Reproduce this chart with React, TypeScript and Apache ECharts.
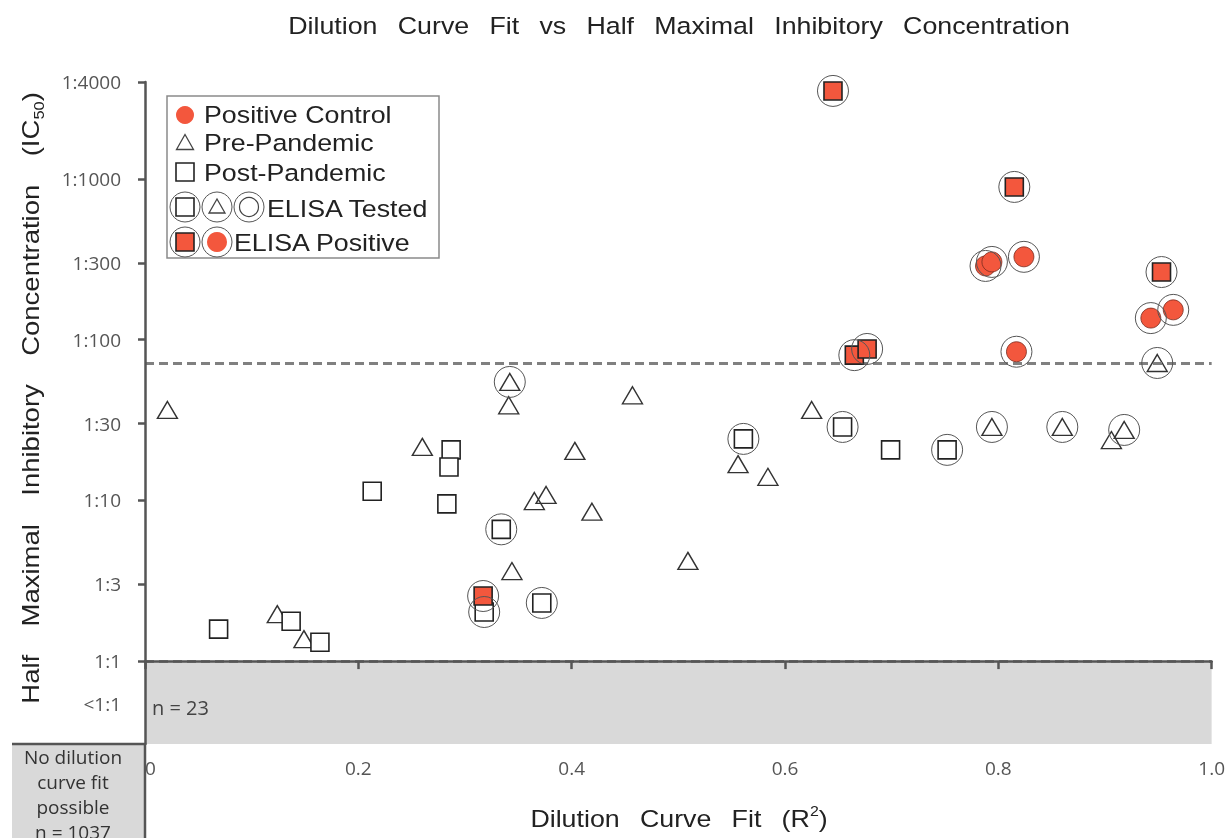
import React, { useEffect, useRef } from "react";
import * as echarts from "echarts";

// ---------- axis ticks ----------
const xTickValues = [0, 0.2, 0.4, 0.6, 0.8, 1.0];
const yTickValues = [1, 3, 10, 30, 100, 300, 1000, 4000];
const yTickLabels = ["1:1", "1:3", "1:10", "1:30", "1:100", "1:300", "1:1000", "1:4000"];
const belowLabel = "<1:1";
const belowLabelValue = 0.54;
const yFloor = 0.305;
const yCeil = 4000;
const thresholdRatios = [1, 70];

// ---------- data: R² (x) and IC50 dilution (y, as 1:N) ----------
const preR2 = [0.021, 0.124, 0.149, 0.26, 0.341, 0.344, 0.365, 0.376, 0.403, 0.419, 0.457, 0.509, 0.556, 0.584, 0.625, 0.906];
const preIC50 = [36.5, 1.96, 1.37, 21.5, 39, 3.63, 9.9, 10.8, 20.3, 8.5, 45, 4.2, 16.8, 14.0, 36.5, 23.7];

const preElisaR2 = [0.342, 0.794, 0.86, 0.918, 0.949];
const preElisaIC50 = [54.5, 28.6, 28.6, 27.4, 71.5];

const postR2 = [0.069, 0.137, 0.164, 0.213, 0.287, 0.285, 0.283, 0.699];
const postIC50 = [1.58, 1.77, 1.31, 11.4, 20.6, 16.1, 9.5, 20.6];

const postElisaR2 = [0.334, 0.318, 0.372, 0.561, 0.654, 0.752];
const postElisaIC50 = [6.6, 2.02, 2.3, 24.1, 28.6, 20.6];

const postPositiveR2 = [0.317, 0.645, 0.665, 0.677, 0.815, 0.953];
const postPositiveIC50 = [2.54, 3520, 80, 87.4, 890, 263];

const controlR2 = [0.788, 0.794, 0.824, 0.817, 0.943, 0.964];
const controlIC50 = [287, 304, 327, 84, 136, 153];

const belowCount = "n = 23";
const noFitLines = ["No dilution", "curve fit", "possible", "n = 1037"];

const RED = "#f3573d";
const lg = (v: number) => Math.log10(v);
const pts = (xs: number[], ys: number[]) => xs.map((x, i) => [x, lg(ys[i])]);

export default function App() {
  const ref = useRef<HTMLDivElement>(null);
  useEffect(() => {
    if (!ref.current) return;
    const chart = echarts.init(ref.current, null, { renderer: "svg" });
    const SANS = "Liberation Sans, Arial, sans-serif";
    const OPEN = "Open Sans, DejaVu Sans, sans-serif";
    const GAP3 = "\u00a0\u00a0\u2009";
    const GAPX = "\u00a0\u00a0\u2009";
    const GAPY = "\u00a0\u00a0\u00a0\u2009";
    const LZ = 40;
    const tri = (cx: number, cy: number, w: number, h: number, stroke = "#444") => ({
      type: "polygon",
      silent: true, z: LZ,
      shape: { points: [[cx - w / 2, cy + h / 2], [cx + w / 2, cy + h / 2], [cx, cy - h / 2]] },
      style: { fill: "none", stroke, lineWidth: 1.3 },
    });
    const ring = (cx: number, cy: number) => ({
      type: "circle", silent: true, z: LZ, shape: { cx, cy, r: 15 }, style: { fill: "none", stroke: "#555", lineWidth: 1 },
    });
    const sq = (cx: number, cy: number, fill: string) => ({
      type: "rect", silent: true, z: LZ, shape: { x: cx - 9, y: cy - 9, width: 18, height: 18 }, style: { fill, stroke: "#222", lineWidth: 1.6 },
    });
    const dot = (cx: number, cy: number, r: number) => ({
      type: "circle", silent: true, z: LZ, shape: { cx, cy, r }, style: { fill: RED },
    });
    const legendText = (x: number, y: number, text: string) => ({
      type: "text", silent: true, z: LZ, x, y, scaleX: 1.14,
      style: { text, fontSize: 23.5, fontFamily: SANS, fill: "#222", textAlign: "left", textVerticalAlign: "middle" },
    });

    const ringData = [
      ...pts(preElisaR2, preElisaIC50),
      ...pts(postElisaR2, postElisaIC50),
      ...pts(postPositiveR2, postPositiveIC50),
      ...pts(controlR2, controlIC50),
    ];

    const option: any = {
      animation: false,
      grid: { left: 145, right: 14, top: 82, bottom: 94, containLabel: false },
      xAxis: {
        type: "value", min: 0, max: 1, interval: 0.2, z: 10,
        splitLine: { show: false },
        axisLine: { lineStyle: { color: "#555", width: 2.5 } },
        axisTick: { show: true, length: 8, lineStyle: { color: "#555", width: 2.5 } },
        axisLabel: {
          fontSize: 19, fontFamily: OPEN, color: "#555", margin: 14, alignMinLabel: "left",
          formatter: (v: number) => {
            const i = xTickValues.findIndex((t) => Math.abs(t - v) < 1e-6);
            return i === 0 ? "0" : v.toFixed(1);
          },
        },
      },
      yAxis: {
        type: "value", min: lg(yFloor), max: lg(yCeil), z: 10,
        splitLine: { show: false },
        axisLine: { onZero: false, lineStyle: { color: "#555", width: 2.5 } },
        axisTick: { show: true, length: 7, customValues: yTickValues.map(lg), lineStyle: { color: "#555", width: 2.5 } },
        axisLabel: {
          fontSize: 19, fontFamily: OPEN, color: "#555", margin: 24,
          customValues: [lg(belowLabelValue), ...yTickValues.map(lg)],
          formatter: (v: number) => {
            if (Math.abs(v - lg(belowLabelValue)) < 1e-6) return belowLabel;
            const i = yTickValues.findIndex((t) => Math.abs(lg(t) - v) < 1e-6);
            return i >= 0 ? yTickLabels[i] : "";
          },
        },
      },
      series: [
        {
          type: "scatter", name: "band", z: 1, silent: true, symbolSize: 0,
          data: [[0, 0]],
          markArea: {
            silent: true,
            itemStyle: { color: "#d9d9d9", opacity: 1 },
            data: [[{ yAxis: lg(yFloor) }, { yAxis: 0 }]],
          },
        },
        {
          type: "scatter", name: "thresholds", z: 2, silent: true, symbolSize: 0,
          data: [[0, 0]],
          markLine: {
            silent: true, symbol: ["none", "none"], label: { show: false },
            lineStyle: { color: "#808080", width: 3, type: [9, 5], opacity: 1 },
            data: thresholdRatios.map((r) => ({ yAxis: lg(r) })),
          },
        },
        {
          type: "scatter", name: "Pre-Pandemic", z: 3, clip: false,
          symbol: "triangle", symbolSize: [20, 17],
          itemStyle: { color: "rgba(255,255,255,0)", borderColor: "#333", borderWidth: 1.4, opacity: 1 },
          data: [...pts(preR2, preIC50), ...pts(preElisaR2, preElisaIC50)],
        },
        {
          type: "scatter", name: "Post-Pandemic", z: 4, clip: false,
          symbol: "rect", symbolSize: 18,
          itemStyle: { color: "#fff", borderColor: "#222", borderWidth: 1.6, opacity: 1 },
          data: [...pts(postR2, postIC50), ...pts(postElisaR2, postElisaIC50)],
        },
        {
          type: "scatter", name: "Post-Pandemic ELISA Positive", z: 5, clip: false,
          symbol: "rect", symbolSize: 18,
          itemStyle: { color: RED, borderColor: "#222", borderWidth: 1.6, opacity: 1 },
          data: pts(postPositiveR2, postPositiveIC50),
        },
        {
          type: "scatter", name: "Positive Control", z: 5, clip: false,
          symbol: "circle", symbolSize: 20,
          itemStyle: { color: RED, borderColor: "#7a2b1e", borderWidth: 0.8, opacity: 1 },
          data: pts(controlR2, controlIC50),
        },
        {
          type: "scatter", name: "ELISA Tested", z: 6, clip: false, silent: true,
          symbol: "circle", symbolSize: 31,
          itemStyle: { color: "rgba(255,255,255,0)", borderColor: "#555", borderWidth: 1, opacity: 1 },
          data: ringData,
        },
      ],
      graphic: [
        // lower-left "no fit" box and axis extensions
        { type: "rect", silent: true, z: 0, shape: { x: 12, y: 744, width: 133, height: 100 }, style: { fill: "#d9d9d9" } },
        { type: "line", silent: true, z: 20, shape: { x1: 12, y1: 744, x2: 145, y2: 744 }, style: { stroke: "#555", lineWidth: 2.5 } },
        { type: "line", silent: true, z: 20, shape: { x1: 145, y1: 743, x2: 145, y2: 840 }, style: { stroke: "#555", lineWidth: 2.5 } },
        {
          type: "text", silent: true, x: 73, y: 744, z: 20,
          style: {
            text: noFitLines.join("\n"), fontSize: 19, lineHeight: 25, fontFamily: OPEN, fill: "#333",
            textAlign: "center", textVerticalAlign: "top",
          },
        },
        {
          type: "text", silent: true, x: 152, y: 707, z: 20,
          style: { text: belowCount, fontSize: 20, fontFamily: OPEN, fill: "#444", textAlign: "left", textVerticalAlign: "middle" },
        },
        // title
        {
          type: "text", silent: true, x: 679, y: 26, scaleX: 1.14,
          style: {
            text: ["Dilution", "Curve", "Fit", "vs", "Half", "Maximal", "Inhibitory", "Concentration"].join(GAP3),
            fontSize: 23.5, fontFamily: SANS, fill: "#222", textAlign: "center", textVerticalAlign: "middle",
          },
        },
        // x axis name
        {
          type: "text", silent: true, x: 679, y: 819, scaleX: 1.14,
          style: {
            text: "{a|Dilution" + GAPX + "Curve" + GAPX + "Fit" + GAPX + "(R}{s|2}{a|)}",
            textAlign: "center", textVerticalAlign: "middle",
            rich: {
              a: { fontSize: 23.5, lineHeight: 30, fontFamily: SANS, fill: "#222" },
              s: { fontSize: 14, lineHeight: 14, fontFamily: SANS, fill: "#222", verticalAlign: "top" },
            },
          },
        },
        // y axis name
        {
          type: "text", silent: true, x: 31, y: 398, rotation: Math.PI / 2, scaleX: 1.17,
          style: {
            text: "{a|Half" + GAPY + "Maximal" + GAPY + "Inhibitory" + GAPY + "Concentration" + GAPY + "(IC}{s|50}{a|)}",
            textAlign: "center", textVerticalAlign: "middle",
            rich: {
              a: { fontSize: 23.5, lineHeight: 30, fontFamily: SANS, fill: "#222" },
              s: { fontSize: 14, lineHeight: 14, fontFamily: SANS, fill: "#222", verticalAlign: "bottom" },
            },
          },
        },
        // legend box
        { type: "rect", silent: true, z: 30, shape: { x: 167, y: 96, width: 272, height: 162 }, style: { fill: "#fff", stroke: "#8a8a8a", lineWidth: 1.5 } },
        dot(185, 115, 9),
        legendText(204, 115, "Positive Control"),
        tri(185, 142, 17, 15),
        legendText(204, 143, "Pre-Pandemic"),
        sq(185, 172, "#fff"),
        legendText(204, 173, "Post-Pandemic"),
        sq(185, 207, "#fff"),
        ring(185, 207),
        tri(217, 206, 16, 14),
        ring(217, 207),
        { type: "circle", silent: true, z: LZ, shape: { cx: 249, cy: 207, r: 9.5 }, style: { fill: "none", stroke: "#444", lineWidth: 1.2 } },
        ring(249, 207),
        legendText(267, 209, "ELISA Tested"),
        sq(185, 242, RED),
        ring(185, 242),
        dot(217, 242, 10),
        ring(217, 242),
        legendText(234, 243, "ELISA Positive"),
      ],
    };
    chart.setOption(option);
    return () => chart.dispose();
  }, []);
  return <div ref={ref} style={{ position: "fixed", left: 0, top: 0, width: 1228, height: 838 }} />;
}
